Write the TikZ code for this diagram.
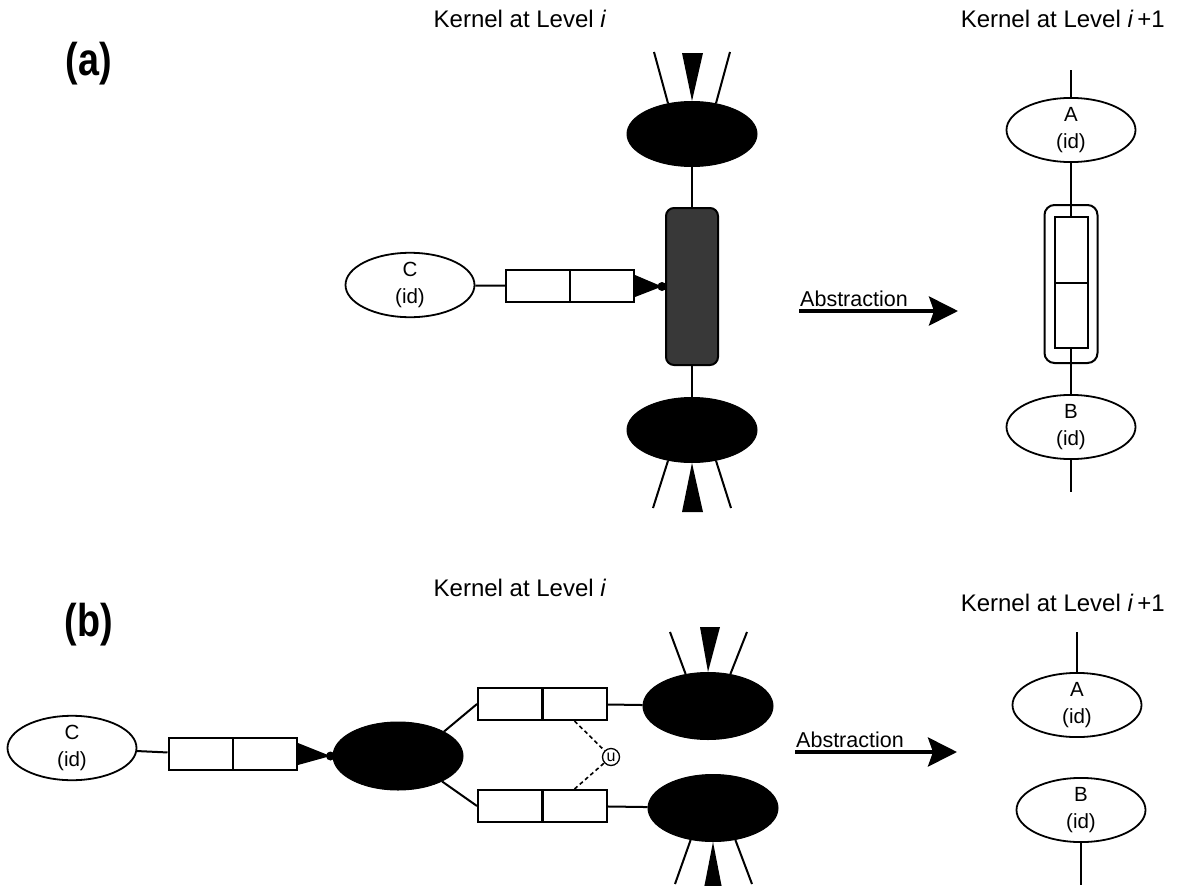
\documentclass[tikz,border=0pt]{standalone}
\usepackage{fontspec}
\setmainfont{Liberation Sans}
\usetikzlibrary{shapes.geometric,arrows.meta,calc}
\begin{document}
\begin{tikzpicture}[x=1pt,y=-1pt,
  wire/.style={line width=2pt},
  dwire/.style={line width=1.6pt,dash pattern=on 4pt off 3pt},
  idell/.style={ellipse,draw,line width=1.8pt,fill=white,minimum width=129pt,minimum height=64pt,inner sep=0pt,align=center,font=\fontsize{20.5}{27}\selectfont},
  blkell/.style={ellipse,draw,fill=black,line width=1pt,minimum width=130pt,minimum height=65pt,inner sep=0pt},
  cell/.style={rectangle,draw,line width=2pt,fill=white,minimum width=64pt,minimum height=32pt,inner sep=0pt},
  vcell/.style={rectangle,draw,line width=2pt,fill=white,minimum width=33pt,minimum height=65.5pt,inner sep=0pt},
  title/.style={font=\fontsize{24}{27}\selectfont,inner sep=0pt},
  abst/.style={font=\fontsize{21.5}{23}\selectfont,anchor=base west,inner sep=0pt},
  bigarrow/.style={line width=4pt,-{Stealth[length=29pt,width=29pt,inset=5pt]}},
  plabel/.style={font=\fontsize{46}{50}\selectfont\bfseries,inner sep=0pt},
  ucirc/.style={circle,draw,line width=1.3pt,fill=white,minimum size=17pt,inner sep=0pt,font=\fontsize{16}{16}\selectfont}
]
\useasboundingbox (0,0) rectangle (1178,886);

% ================= (a) =================
\node[plabel] (la) at (89,64) {\scalebox{0.82}[1]{(a)}};
\node[title] (ta1) at (520,19) {Kernel at Level \textit{i}};
\node[title,anchor=east] (ta2) at (1165,19) {Kernel at Level \textit{i}\,+1};

\node[blkell] (aT) at (692,134) {};
\node[rectangle,draw,line width=2pt,fill=black!78,rounded corners=8pt,minimum width=52pt,minimum height=157pt,inner sep=0pt] (aR) at (692,286.5) {};
\node[blkell] (aB) at (692,430) {};
\draw[wire] (aT) -- (aR);
\draw[wire] (aR) -- (aB);

\coordinate (aTl) at (654,52);
\coordinate (aTr) at (730,52);
\draw[wire] (aT.128) -- (aTl);
\draw[wire] (aT.52) -- (aTr);
\fill (aT.north) -- (682,53) -- (703,53) -- cycle;

\coordinate (aBl) at (653,508);
\coordinate (aBr) at (731,508);
\draw[wire] (aB.232) -- (aBl);
\draw[wire] (aB.308) -- (aBr);
\fill (aB.south) -- (682,512) -- (703,512) -- cycle;

\node[idell] (aC) at (410,285) {C\\(id)};
\node[cell] (aQ1) at (538,286) {};
\node[cell] (aQ2) at (602,286) {};
\draw[wire] (aC) -- (aQ1);
\fill ($(aQ2.east)+(0,-11)$) -- ($(aR.west)+(-3,0)$) -- ($(aQ2.east)+(0,11)$) -- cycle;
\fill ($(aR.west)+(-3,0)$) circle (4.5pt);

\node[abst] (abA) at (800,306) {Abstraction};
\coordinate (aArS) at (799,311);
\coordinate (aArE) at (958,311);
\draw[bigarrow] (aArS) -- (aArE);

\node[idell] (aA) at (1071,130) {A\\(id)};
\node[idell] (aBB) at (1071,427) {B\\(id)};
\node[rectangle,draw,line width=2pt,rounded corners=10pt,minimum width=53pt,minimum height=158pt,inner sep=0pt] (aO) at (1071,284) {};
\node[vcell] (aI1) at (1071,250) {};
\node[vcell] (aI2) at (1071,315.5) {};
\coordinate (aAt) at (1071,70);
\coordinate (aBBb) at (1071,492);
\draw[wire] (aAt) -- (aA);
\draw[wire] (aA) -- (aI1);
\draw[wire] (aI2) -- (aBB);
\draw[wire] (aBB) -- (aBBb);

% ================= (b) =================
\node[plabel] (lb) at (89,625) {\scalebox{0.82}[1]{(b)}};
\node[title] (tb1) at (520,588) {Kernel at Level \textit{i}};
\node[title,anchor=east] (tb2) at (1165,603) {Kernel at Level \textit{i}\,+1};

\node[idell,minimum height=58pt] (bC) at (72,748) {C\\(id)};
\node[cell] (bQ1) at (200.5,754) {};
\node[cell] (bQ2) at (265,754) {};
\draw[wire] (bC) -- (bQ1);
\node[blkell,minimum height=68pt] (bE) at (398,756) {};
\fill ($(bQ2.east)+(0,-11)$) -- ($(bE.west)+(-2,0)$) -- ($(bQ2.east)+(0,11)$) -- cycle;
\fill ($(bE.west)+(-2,0)$) circle (4.5pt);

\node[cell] (bU1) at (510,704) {};
\node[cell] (bU2) at (574.5,704) {};
\node[cell] (bL1) at (510,806) {};
\node[cell] (bL2) at (574.5,806) {};
\draw[wire] (bE.28) -- (bU1.west);
\draw[wire] (bE.-30) -- (bL1.west);

\node[blkell,minimum height=67pt] (bTR) at (708,706) {};
\node[blkell,minimum height=67pt] (bBR) at (713,808) {};
\draw[wire] (bU2) -- (bTR);
\draw[wire] (bL2) -- (bBR);

\coordinate (bTl) at (670,632);
\coordinate (bTr) at (747,632);
\draw[wire] (bTR.125) -- (bTl);
\draw[wire] (bTR.55) -- (bTr);
\fill (bTR.north) -- (700,627) -- (720,627) -- cycle;

\coordinate (bBl) at (675,884);
\coordinate (bBr) at (752,884);
\draw[wire] (bBR.235) -- (bBl);
\draw[wire] (bBR.305) -- (bBr);
\fill (bBR.south) -- (704,888) -- (722,888) -- cycle;

\node[ucirc] (u) at (611,757) {u};
\draw[dwire] (bU2.south) -- (u);
\draw[dwire] (bL2.north) -- (u);

\node[abst] (abB) at (796,747) {Abstraction};
\coordinate (bArS) at (795,752);
\coordinate (bArE) at (957,752);
\draw[bigarrow] (bArS) -- (bArE);

\node[idell] (bA) at (1077,705) {A\\(id)};
\node[idell] (bB) at (1081,810) {B\\(id)};
\coordinate (bAt) at (1077,632);
\coordinate (bBb) at (1081,885);
\draw[wire] (bAt) -- (bA);
\draw[wire] (bB) -- (bBb);
\end{tikzpicture}
\end{document}
